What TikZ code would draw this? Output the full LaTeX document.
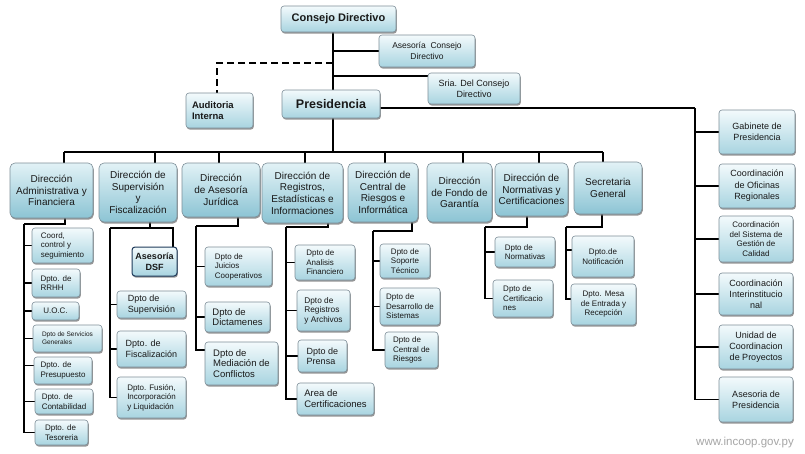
\documentclass[tikz,border=0pt]{standalone}
\usepackage{fontspec}
\setmainfont{Liberation Sans}
\usetikzlibrary{shadows,backgrounds}
\definecolor{bt}{HTML}{F3FAFC}
\definecolor{bb}{HTML}{A8D4E0}
\definecolor{dt}{HTML}{E2F2F6}
\definecolor{db}{HTML}{8CC4D4}
\definecolor{bd}{HTML}{7D8E98}
\definecolor{dsfb}{HTML}{1E3A5A}
\definecolor{wm}{HTML}{A6A6A6}
\tikzset{
 fs/.style 2 args={font=\fontsize{#1}{#2}\selectfont},
 wh/.style 2 args={minimum width=#1, minimum height=#2},
 box/.style={draw=bd, line width=0.6pt, rounded corners=3pt, top color=bt, bottom color=bb,
   drop shadow={shadow xshift=0.8pt, shadow yshift=-1.6pt, fill=black!55, opacity=0.75},
   align=center, inner sep=1pt, text=black!90},
 dirbox/.style={box, rounded corners=5pt, top color=dt, bottom color=db, fs={10}{11.7}},
 subbox/.style={box, align=left},
 dsfbox/.style={box, draw=dsfb, line width=1pt, font=\bfseries\fontsize{9}{11}\selectfont},
 con/.style={line width=1.4pt, black},
 thin con/.style={line width=1.1pt, black},
 drop a/.style={line width=1.5pt, black},
 drop b/.style={line width=2.5pt, black},
}
\begin{document}
\begin{tikzpicture}[x=1pt,y=-1pt]
\useasboundingbox (0,0) rectangle (805,453);
% top
\node[box, wh={115pt}{26pt}, font=\bfseries\fontsize{11}{13}\selectfont] (cd) at (338.5,19) {Consejo Directivo};
\node[box, wh={96pt}{32pt}, fs={8.5}{11}] (acd) at (427,51) {Asesoría\ \ Consejo\\Directivo};
\node[box, wh={92pt}{31pt}, fs={9}{11}] (sria) at (474,88.5) {Sria. Del Consejo\\Directivo};
\node[box, wh={67pt}{35pt}, align=left, text width=55pt, inner xsep=6pt, font=\bfseries\fontsize{9.5}{11.5}\selectfont] (aud) at (219.5,110.5) {Auditoria\\Interna};
\node[box, wh={98pt}{28pt}, font=\bfseries\fontsize{12.5}{14}\selectfont] (pres) at (331,104) {Presidencia};
% direcciones
\node[dirbox, wh={83pt}{55pt}] (d1) at (51.5,190.5) {Dirección\\Administrativa y\\Financiera};
\node[dirbox, wh={78pt}{59pt}] (d2) at (138,192.5) {Dirección de\\Supervisión\\y\\Fiscalización};
\node[dirbox, wh={78pt}{54pt}] (d3) at (221,190) {Dirección\\de Asesoría\\Jurídica};
\node[dirbox, wh={81pt}{60pt}] (d4) at (302.5,193) {Dirección de\\Registros,\\Estadísticas e\\Informaciones};
\node[dirbox, wh={70pt}{59pt}] (d5) at (383,192.5) {Dirección de\\Central de\\Riesgos e\\Informática};
\node[dirbox, wh={65pt}{59pt}] (d6) at (459.5,192.5) {Dirección\\de Fondo de\\Garantía};
\node[dirbox, wh={73pt}{53pt}] (d7) at (531.5,189.5) {Dirección de\\Normativas y\\Certificaciones};
\node[dirbox, wh={68pt}{52pt}] (d8) at (608,188) {Secretaria\\General};
% admin
\node[subbox, wh={61pt}{35pt}, fs={8}{9.5}] (a1) at (62.5,245.5) {Coord,\\control y\\seguimiento};
\node[subbox, wh={48pt}{28pt}, fs={8}{9.5}] (a2) at (56,283) {Dpto. de\\RRHH};
\node[subbox, wh={47pt}{18pt}, fs={8}{9.5}] (a3) at (55.5,311) {U.O.C.};
\node[subbox, wh={69pt}{27pt}, fs={6.5}{7.8}] (a4) at (67.5,338.5) {Dpto de Servicios\\Generales};
\node[subbox, wh={58pt}{27pt}, fs={8}{9.5}] (a5) at (63,370.5) {Dpto. de\\Presupuesto};
\node[subbox, wh={58pt}{25pt}, fs={8}{9.5}] (a6) at (64,401.5) {Dpto. de\\Contabilidad};
\node[subbox, wh={53pt}{25pt}, fs={8}{9.5}] (a7) at (61.5,432.5) {Dpto. de\\Tesoreria};
% supervision
\node[dsfbox, wh={45pt}{29pt}] (dsf) at (154.5,261.5) {Asesoría\\DSF};
\node[subbox, wh={69pt}{27pt}, fs={9}{10.5}] (s1) at (151.5,304.5) {Dpto de\\Supervisión};
\node[subbox, wh={69pt}{36pt}, fs={9}{10.5}] (s2) at (151.5,349) {Dpto. de\\Fiscalización};
\node[subbox, wh={69pt}{41pt}, fs={8}{9.5}] (s3) at (151.5,397.5) {Dpto. Fusión,\\Incorporación\\y Liquidación};
% juridica
\node[subbox, wh={67pt}{39pt}, fs={8}{9.5}] (j1) at (238.5,266.5) {Dpto de\\Juicios\\Cooperativos};
\node[subbox, wh={65pt}{30pt}, fs={9.5}{10.5}] (j2) at (237.5,317) {Dpto de\\Dictamenes};
\node[subbox, wh={73pt}{43pt}, fs={9.5}{10.5}] (j3) at (241.5,363.5) {Dpto de\\Mediación de\\Conflictos};
% registros
\node[subbox, wh={60pt}{35pt}, fs={8}{9.5}] (r1) at (325,262.5) {Dpto de\\Analisis\\Financiero};
\node[subbox, wh={53pt}{41pt}, fs={8.3}{9.5}] (r2) at (323.5,310.5) {Dpto de\\Registros\\y Archivos};
\node[subbox, wh={49pt}{32pt}, fs={9}{10}] (r3) at (322.5,356) {Dpto de\\Prensa};
\node[subbox, wh={77pt}{32pt}, fs={9.5}{11}] (r4) at (335.5,399) {Area de\\Certificaciones};
% central riesgos
\node[subbox, wh={50pt}{34pt}, fs={8}{9.5}] (c1) at (405,261) {Dpto de\\Soporte\\Técnico};
\node[subbox, wh={60pt}{37pt}, fs={8}{9.5}] (c2) at (410,306.5) {Dpto de\\Desarrollo de\\Sistemas};
\node[subbox, wh={53pt}{36pt}, fs={8}{9.5}] (c3) at (411.5,350) {Dpto de\\Central de\\Riesgos};
% normativas
\node[subbox, wh={60pt}{30pt}, fs={8}{9.5}] (n1) at (525,252) {Dpto de\\Normativas};
\node[subbox, wh={60pt}{37pt}, fs={8}{9.5}] (n2) at (523,298.5) {Dpto de\\Certificacio\\nes};
% secretaria
\node[box, wh={62pt}{41pt}, fs={8}{9.5}] (g1) at (603,256.5) {Dpto.de\\Notificación};
\node[box, wh={65pt}{41pt}, fs={8}{9.5}] (g2) at (603.5,304.5) {Dpto. Mesa\\de Entrada y\\Recepción};
% right column
\node[box, wh={76pt}{44pt}, fs={9}{11.5}] (p1) at (757,132) {Gabinete de\\Presidencia};
\node[box, wh={76pt}{44pt}, fs={9}{11.5}] (p2) at (757,186) {Coordinación\\de Oficinas\\Regionales};
\node[box, wh={74pt}{46pt}, fs={8}{9.5}] (p3) at (756,239) {Coordinación\\del Sistema de\\Gestión de\\Calidad};
\node[box, wh={74pt}{42pt}, fs={9}{11}] (p4) at (756,294) {Coordinación\\Interinstitucio\\nal};
\node[box, wh={74pt}{44pt}, fs={9}{11}] (p5) at (756,347) {Unidad de\\Coordinacion\\de Proyectos};
\node[box, wh={74pt}{45pt}, fs={9}{11}, align=left] (p6) at (756,399.5) {Asesoria de\\Presidencia};
% watermark
\node[fs={11.5}{13}, text=wm] (wmk) at (745,443) {www.incoop.gov.py};

\begin{scope}[on background layer]
\fill[white] (0,0) rectangle (805,453);
% top connectors
\coordinate (sp) at (333,32);
\coordinate (dk) at (333,63);
\draw[con] (sp) -- (sp |- pres.north);
\draw[con] (acd.west -| sp) -- (acd.west);
\draw[con] ([yshift=12.5pt]sria.west -| sp) -- ([yshift=12.5pt]sria.west);
\draw[con, dash pattern=on 7pt off 4pt] (dk) -| ([xshift=-2.5pt]aud.north);
% right column
\coordinate (rv) at (695,108);
\draw[con] ([yshift=-4pt]pres.east) -- (rv);
\foreach \p in {p1,p2,p3,p4,p5,p6} \draw[thin con] (rv) |- (\p.west);
% bus
\coordinate (bus) at (333,152);
\draw[con] (pres.south -| bus) -- (bus);
\coordinate (b1) at (64,152);
\coordinate (b2) at (155,152);
\coordinate (b3) at (219,152);
\coordinate (b4) at (305,152);
\coordinate (b5) at (385,152);
\coordinate (b6) at (463,152);
\coordinate (b7) at (539,152);
\coordinate (b8) at (603,152);
\draw[con, line width=1.8pt] (b1) -- (b8);
\draw[drop a] (b1) -- (b1 |- d1.north);
\draw[drop a] (b2) -- (b2 |- d2.north);
\draw[drop b] (b3) -- (b3 |- d3.north);
\draw[drop b] (b4) -- (b4 |- d4.north);
\draw[drop b] (b5) -- (b5 |- d5.north);
\draw[drop a] (b6) -- (b6 |- d6.north);
\draw[drop b] (b7) -- (b7 |- d7.north);
\draw[drop b] (b8) -- (b8 |- d8.north);
% admin
\coordinate (ak) at (65,224);
\coordinate (al) at (24,224);
\draw[con] (ak |- d1.south) -- (ak) -- (al);
\foreach \s in {a1,a2,a3,a4,a6,a7} \draw[con] (al) |- (\s.west);
\draw[con] (al) |- ([yshift=5pt]a5.west);
% supervision
\coordinate (sk) at (150,228);
\coordinate (sl) at (110,228);
\coordinate (sr) at (173,228);
\draw[con] (sk |- d2.south) -- (sk);
\draw[con] (sl) -- (sr) -- (sr |- dsf.north);
\foreach \s in {s1,s2,s3} \draw[con] (sl) |- (\s.west);
% juridica
\coordinate (jk) at (238,226);
\coordinate (jl) at (196,226);
\draw[con] (jk |- d3.south) -- (jk) -- (jl);
\draw[con] (jl) |- (j1.west);
\draw[con] (jl) |- (j2.west);
\draw[con] (jl) |- ([yshift=13.5pt]j3.west);
% registros
\coordinate (rk) at (328,227);
\coordinate (rl) at (286,227);
\draw[con] (rk |- d4.south) -- (rk) -- (rl);
\foreach \s in {r1,r2,r3,r4} \draw[con] (rl) |- (\s.west);
% central
\coordinate (ck) at (412,231);
\coordinate (cl) at (373,231);
\draw[con] (ck |- d5.south) -- (ck) -- (cl);
\foreach \s in {c1,c2,c3} \draw[con] (cl) |- (\s.west);
% normativas
\coordinate (nk) at (527,227);
\coordinate (nl) at (485,227);
\draw[con] (nk |- d7.south) -- (nk) -- (nl);
\foreach \s in {n1,n2} \draw[con] (nl) |- (\s.west);
% secretaria
\coordinate (gk) at (602,227);
\coordinate (gl) at (566,227);
\draw[con] (gk |- d8.south) -- (gk) -- (gl);
\draw[con] (gl) |- ([yshift=6.5pt]g1.west);
\draw[con] (gl) |- ([yshift=5.5pt]g2.west);
\end{scope}
\end{tikzpicture}
\end{document}
